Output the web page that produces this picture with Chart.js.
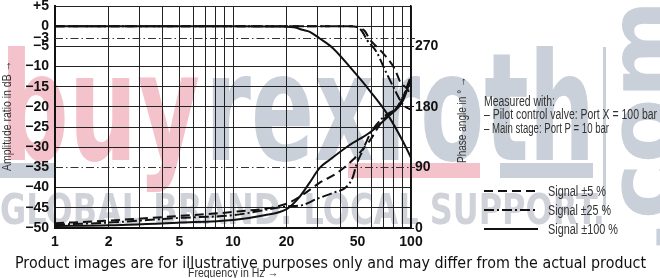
<!DOCTYPE html>
<html>
<head>
<meta charset="utf-8">
<script src="https://cdn.jsdelivr.net/npm/chart.js@4.4.0/dist/chart.umd.min.js"></script>
<style>
html, body { margin: 0; padding: 0; background: #fff; }
canvas { display: block; }
</style>
</head>
<body>
<canvas id="bode" width="660" height="278"></canvas>
<script>
// amplitude ratio (dB) over frequency (Hz)
var ampSolidHz = [1, 10, 19, 22.7, 24.5, 27, 30.6, 36.3, 47, 58.7, 73.2, 90, 100];
var ampSolidDb = [0, 0, -0.1, -0.4, -0.9, -1.4, -3.0, -5.4, -10.9, -16, -21.6, -28.5, -32.6];
var ampDashHz = [1, 10, 45, 50, 55, 58.7, 69, 81, 87, 95, 100];
var ampDashDb = [0, 0, 0, -0.2, -1.2, -3.3, -6.5, -10.6, -13.8, -15.5, -17];
var ampDotHz = [1, 10, 45, 50, 53, 56.4, 64.3, 71, 80.5, 90, 100];
var ampDotDb = [0, 0, 0, -0.2, -1.2, -3.3, -6.5, -10.6, -15.5, -19.4, -20.7];

// phase angle (deg) over frequency (Hz)
var phSolidHz = [1, 2, 5, 10, 15, 20, 23.6, 26.9, 30.6, 34.8, 45, 58.7, 73.2, 90, 100];
var phSolidDeg = [3, 4, 8, 12, 19, 28, 46, 67, 89, 101, 123, 142, 164, 189, 222];
var phDashHz = [1, 2, 5, 10, 20, 24.5, 30.6, 38, 47, 58.7, 69.4, 83.3, 100];
var phDashDeg = [7, 11, 18, 24, 36, 49, 67, 81, 101, 130, 160, 179, 219];
var phDotHz = [1, 2, 5, 10, 20, 24.5, 29.4, 36.3, 43.3, 47, 49.5, 53.5, 58.7, 69.4, 86.7, 100];
var phDotDeg = [5, 8, 15, 19, 32, 34, 43, 52, 61, 75, 95, 115, 139, 164, 185, 226];

var seriesNames = ['Signal \u00b15 %', 'Signal \u00b125 %', 'Signal \u00b1100 %'];
var freqTicks = [1, 2, 3, 4, 5, 6, 7, 8, 9, 10, 20, 30, 40, 50, 60, 70, 80, 90, 100];
var freqLabels = [1, 2, 5, 10, 20, 50, 100];
var dbTicks = [5, 0, -3, -5, -10, -15, -20, -25, -30, -35, -40, -45, -50];
var phaseTicks = [0, 90, 180, 270];
var markDb = [-3, -35];

var dashes = [[9, 5], [10, 3, 2, 3], []];
var ink = '#111';
var narrow = "'Liberation Sans Narrow', 'Liberation Sans', sans-serif";

function pts(xs, ys) {
    return xs.map(function (x, i) { return { x: x, y: ys[i] }; });
}

function fitText(ctx, text, x, y, width, font) {
    ctx.save();
    ctx.font = font;
    var w = ctx.measureText(text).width;
    ctx.translate(x, y);
    ctx.scale(width / w, 1);
    ctx.textAlign = 'left';
    ctx.fillText(text, 0, 0);
    ctx.restore();
}

function upText(ctx, text, cx, cy, len, font) {
    ctx.save();
    ctx.font = font;
    var w = ctx.measureText(text).width;
    ctx.translate(cx, cy);
    ctx.rotate(-Math.PI / 2);
    ctx.scale(len / w, 1);
    ctx.textAlign = 'center';
    ctx.textBaseline = 'middle';
    ctx.fillText(text, 0, 0);
    ctx.restore();
}

var paper = {
    id: 'paper',
    beforeDraw: function (chart) {
        var ctx = chart.ctx;
        ctx.save();
        ctx.fillStyle = '#fff';
        ctx.fillRect(0, 0, chart.width, chart.height);
        // watermark
        ctx.textBaseline = 'alphabetic';
        ctx.fillStyle = '#f4c2ca';
        fitText(ctx, 'buy', 0, 160, 200, 'bold 150px "DejaVu Sans"');
        ctx.fillRect(348, 163, 132, 15);
        ctx.fillStyle = '#c9d0d9';
        fitText(ctx, 'rexroth', 205, 160, 390, 'bold 150px "DejaVu Sans"');
        ctx.fillRect(0, 163, 55, 15);
        ctx.fillRect(500, 163, 93, 15);
        ctx.fillRect(603, 47, 3, 165);
        ctx.save();
        ctx.translate(674, 255);
        ctx.rotate(-Math.PI / 2);
        ctx.font = 'bold 92px "DejaVu Sans"';
        ctx.scale(255 / ctx.measureText('.com').width, 1);
        ctx.fillText('.com', 0, 0);
        ctx.restore();
        ctx.fillStyle = '#cfd3d9';
        fitText(ctx, 'GLOBAL BRAND. LOCAL SUPPORT.', 0, 224, 605, 'bold 42px "DejaVu Sans"');
        ctx.restore();
    },
    beforeDatasetsDraw: function (chart) {
        var ctx = chart.ctx, a = chart.chartArea, y = chart.scales.y;
        ctx.save();
        ctx.strokeStyle = '#333';
        ctx.lineWidth = 1;
        ctx.setLineDash([8, 3, 1.5, 3]);
        markDb.forEach(function (v) {
            var py = Math.round(y.getPixelForValue(v)) + 0.5;
            ctx.beginPath();
            ctx.moveTo(a.left, py);
            ctx.lineTo(a.right + 4, py);
            ctx.stroke();
        });
        ctx.restore();
    },
    afterDraw: function (chart) {
        var ctx = chart.ctx;
        ctx.save();
        ctx.fillStyle = '#333';
        ctx.textBaseline = 'alphabetic';
        upText(ctx, 'Amplitude ratio in dB \u2192', 7, 116, 110, '13px ' + narrow);
        upText(ctx, 'Phase angle in \u00b0 \u2192', 462, 120, 86, '13px ' + narrow);

        fitText(ctx, 'Measured with:', 484, 106, 71, '14px ' + narrow);
        fitText(ctx, '\u2013 Pilot control valve: Port X = 100 bar', 484, 119, 173, '14px ' + narrow);
        fitText(ctx, '\u2013 Main stage: Port P = 10 bar', 484, 133, 125, '14px ' + narrow);

        // legend
        var rows = [191, 210, 229];
        rows.forEach(function (ry, i) {
            ctx.save();
            ctx.strokeStyle = ink;
            ctx.lineWidth = 2;
            ctx.setLineDash(dashes[i]);
            ctx.beginPath();
            ctx.moveTo(484, ry);
            ctx.lineTo(538, ry);
            ctx.stroke();
            ctx.restore();
            var w = [58, 63, 70][i];
            fitText(ctx, seriesNames[i], 548, ry + 5, w, '14px ' + narrow);
        });

        fitText(ctx, 'Frequency in Hz \u2192', 188, 277, 90, '13px ' + narrow);

        ctx.fillStyle = '#111';
        fitText(ctx, 'Product images are for illustrative purposes only and may differ from the actual product',
            15, 268, 631, '15px "DejaVu Sans"');
        ctx.restore();
    }
};

new Chart(document.getElementById('bode'), {
    type: 'line',
    data: {
        datasets: [
            { label: seriesNames[0], data: pts(ampDashHz, ampDashDb), borderDash: dashes[0], yAxisID: 'y' },
            { label: seriesNames[1], data: pts(ampDotHz, ampDotDb), borderDash: dashes[1], yAxisID: 'y' },
            { label: seriesNames[2], data: pts(ampSolidHz, ampSolidDb), borderDash: dashes[2], yAxisID: 'y' },
            { label: seriesNames[0], data: pts(phDashHz, phDashDeg), borderDash: dashes[0], yAxisID: 'y2' },
            { label: seriesNames[1], data: pts(phDotHz, phDotDeg), borderDash: dashes[1], yAxisID: 'y2' },
            { label: seriesNames[2], data: pts(phSolidHz, phSolidDeg), borderDash: dashes[2], yAxisID: 'y2' }
        ]
    },
    options: {
        responsive: false,
        animation: false,
        layout: { padding: { left: 0, right: 209, top: 6, bottom: 0 } },
        plugins: { legend: { display: false }, tooltip: { enabled: false } },
        elements: {
            point: { radius: 0 },
            line: { borderWidth: 2, borderColor: ink, cubicInterpolationMode: 'monotone', fill: false }
        },
        scales: {
            x: {
                type: 'logarithmic',
                min: 1,
                max: 100,
                afterBuildTicks: function (s) {
                    s.ticks = freqTicks.map(function (v) { return { value: v }; });
                },
                afterFit: function (s) { s.height = 50; s.paddingLeft = 0; s.paddingRight = 0; },
                ticks: {
                    autoSkip: false,
                    maxRotation: 0,
                    padding: 6,
                    color: ink,
                    font: { family: narrow, size: 14, weight: 'bold' },
                    callback: function (v) { return freqLabels.indexOf(v) >= 0 ? String(v) : ''; }
                },
                grid: { color: '#222', lineWidth: 1, drawTicks: false },
                border: { color: ink, width: 2 }
            },
            y: {
                position: 'left',
                min: -50,
                max: 5,
                afterBuildTicks: function (s) {
                    s.ticks = dbTicks.map(function (v) { return { value: v }; });
                },
                afterFit: function (s) { s.width = 55; s.paddingTop = 0; s.paddingBottom = 0; },
                ticks: {
                    autoSkip: false,
                    padding: 6,
                    color: ink,
                    font: { family: narrow, size: 14, weight: 'bold' },
                    callback: function (v) {
                        if (v > 0) return '+' + v;
                        if (v === 0) return '0';
                        return '\u2212' + Math.abs(v);
                    }
                },
                grid: {
                    drawTicks: false,
                    lineWidth: 1,
                    color: function (c) {
                        return markDb.indexOf(c.tick.value) >= 0 ? 'rgba(0,0,0,0)' : '#222';
                    }
                },
                border: { color: ink, width: 2 }
            },
            y2: {
                position: 'right',
                min: 0,
                max: 330,
                afterBuildTicks: function (s) {
                    s.ticks = phaseTicks.map(function (v) { return { value: v }; });
                },
                afterFit: function (s) { s.width = 40; s.paddingTop = 0; s.paddingBottom = 0; },
                ticks: {
                    autoSkip: false,
                    padding: 1,
                    color: ink,
                    font: { family: narrow, size: 14, weight: 'bold' }
                },
                grid: { drawOnChartArea: false, tickLength: 3, color: ink },
                border: { color: ink, width: 1.5 }
            }
        }
    },
    plugins: [paper]
});
</script>
</body>
</html>
